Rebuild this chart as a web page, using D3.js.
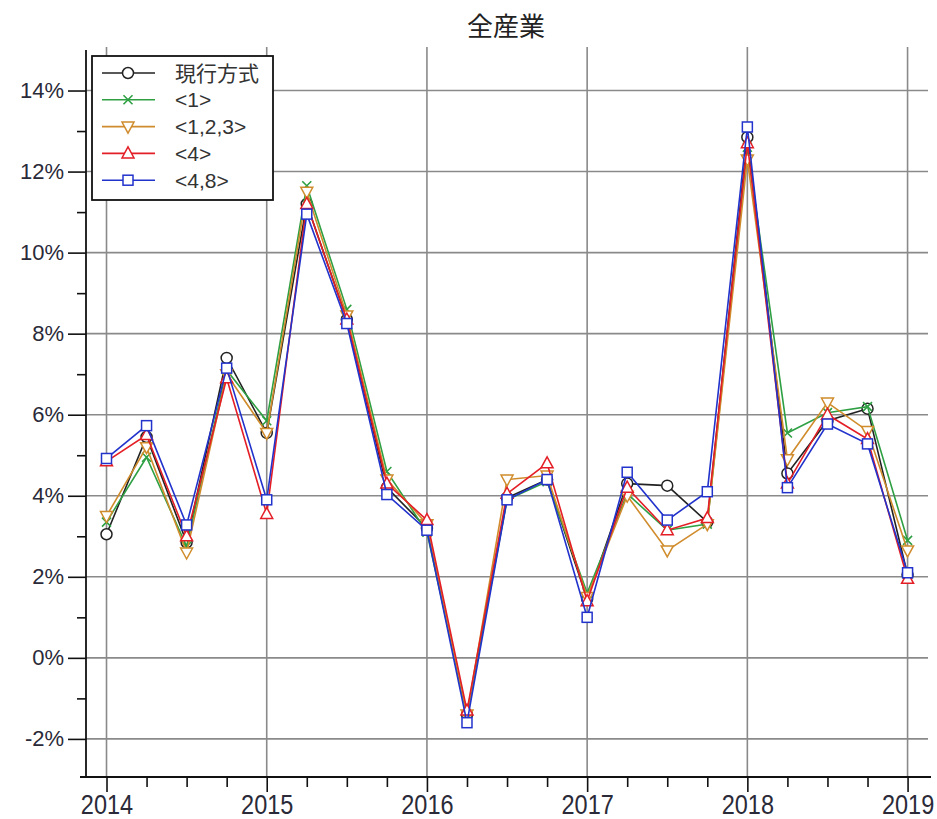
<!DOCTYPE html>
<html>
<head>
<meta charset="utf-8">
<script src="https://cdn.jsdelivr.net/npm/d3@7"></script>
<style>
  html, body { margin: 0; padding: 0; background: #fff; }
  svg { display: block; }
</style>
</head>
<body>
<svg id="chart" width="937" height="819"></svg>
<script>
// Quarterly growth rates (%), 2014Q1 .. 2019Q1
const quarters = d3.range(0, 21).map(i => 2014 + i * 0.25);
const yearTicks = [2014, 2015, 2016, 2017, 2018, 2019];
const pctTicks = [-2, 0, 2, 4, 6, 8, 10, 12, 14];
const minorPctTicks = [-1, 1, 3, 5, 7, 9, 11, 13];

const current = [3.05, 5.45, 2.85, 7.40, 5.55, 11.20, 8.35, 4.20, 3.20, -1.40, 3.95, 4.40, 1.45, 4.30, 4.25, 3.35, 12.85, 4.55, 5.85, 6.15, 2.05];
const g1      = [3.35, 4.95, 2.75, 7.10, 5.85, 11.65, 8.60, 4.60, 3.10, -1.40, 3.90, 4.35, 1.60, 4.05, 3.15, 3.30, 12.60, 5.55, 6.05, 6.20, 2.90];
const g123    = [3.50, 5.20, 2.60, 7.00, 5.55, 11.50, 8.45, 4.40, 3.30, -1.40, 4.40, 4.50, 1.50, 4.00, 2.65, 3.30, 12.30, 4.90, 6.30, 5.60, 2.65];
const g4      = [4.85, 5.50, 3.00, 6.90, 3.55, 11.20, 8.35, 4.30, 3.40, -1.30, 4.05, 4.80, 1.40, 4.20, 3.15, 3.45, 12.70, 4.30, 6.00, 5.40, 1.95];
const g48     = [4.92, 5.73, 3.28, 7.15, 3.90, 10.95, 8.25, 4.03, 3.15, -1.60, 3.90, 4.40, 1.00, 4.58, 3.40, 4.10, 13.10, 4.20, 5.77, 5.28, 2.10];

const seriesNames = ["現行方式", "<1>", "<1,2,3>", "<4>", "<4,8>"];
const seriesValues = [current, g1, g123, g4, g48];
const seriesColors = ["#222222", "#2ea043", "#d08c2c", "#e41e26", "#2233cc"];
const seriesMarkers = ["circle", "cross", "triDown", "triUp", "square"];

const svg = d3.select("#chart");
const plotLeft = 86, plotRight = 930, plotTop = 50, plotBottom = 777;

const x = d3.scaleLinear().domain([2013.872, 2019.14]).range([plotLeft, plotRight]);
const y = d3.scaleLinear().domain([-2.94, 15.0]).range([plotBottom, plotTop]);

// Grid
const grid = svg.append("g");
grid.selectAll("line.v").data(yearTicks).join("line")
  .attr("x1", d => x(d)).attr("x2", d => x(d))
  .attr("y1", plotTop - 3).attr("y2", plotBottom)
  .attr("stroke", "#8a8a8a").attr("stroke-width", 1.6);
grid.selectAll("line.h").data(pctTicks).join("line")
  .attr("x1", plotLeft).attr("x2", plotRight - 2)
  .attr("y1", d => y(d)).attr("y2", d => y(d))
  .attr("stroke", "#8a8a8a").attr("stroke-width", 1.6);

// Y axis
const yAxis = svg.append("g").attr("transform", `translate(${plotLeft},0)`)
  .call(d3.axisLeft(y).tickValues(pctTicks).tickSize(18).tickPadding(4).tickFormat(d => d + "%"));
yAxis.select(".domain").remove();
yAxis.selectAll(".tick line").attr("stroke", "#111").attr("stroke-width", 1.6);
yAxis.selectAll(".tick text")
  .attr("font-family", "'Liberation Sans', Arial, sans-serif")
  .attr("font-size", 22).attr("fill", "#2a2a38");
svg.append("g").attr("transform", `translate(${plotLeft},0)`)
  .call(d3.axisLeft(y).tickValues(minorPctTicks).tickSize(9).tickFormat(""))
  .call(g => g.select(".domain").remove())
  .selectAll(".tick line").attr("stroke", "#111").attr("stroke-width", 1.6);
svg.append("line").attr("x1", plotLeft).attr("x2", plotLeft).attr("y1", plotTop).attr("y2", plotBottom)
  .attr("stroke", "#111").attr("stroke-width", 1.8);

// X axis
const xAxis = svg.append("g").attr("transform", `translate(0,${plotBottom})`)
  .call(d3.axisBottom(x).tickValues(yearTicks).tickSize(15).tickPadding(2).tickFormat(d3.format("d")));
xAxis.select(".domain").remove();
xAxis.selectAll(".tick line").attr("stroke", "#111").attr("stroke-width", 1.6);
xAxis.selectAll(".tick text")
  .attr("font-family", "'Liberation Sans', Arial, sans-serif")
  .attr("font-size", 28).attr("fill", "#2a2a38")
  .attr("dy", "0.72em")
  .attr("transform", "scale(0.84,1)")
  .attr("x", 0);
svg.append("g").attr("transform", `translate(0,${plotBottom})`)
  .call(d3.axisBottom(x).tickValues(quarters.filter(q => q % 1 !== 0)).tickSize(10).tickFormat(""))
  .call(g => g.select(".domain").remove())
  .selectAll(".tick line").attr("stroke", "#111").attr("stroke-width", 1.6);
svg.append("line").attr("x1", plotLeft - 6).attr("x2", plotRight + 1).attr("y1", plotBottom).attr("y2", plotBottom)
  .attr("stroke", "#111").attr("stroke-width", 1.8);

// Title
svg.append("text").attr("x", 506).attr("y", 36).attr("text-anchor", "middle")
  .attr("font-family", "'Noto Sans CJK JP', sans-serif").attr("font-size", 26).attr("fill", "#222")
  .text("全産業");

// Marker drawing
function drawMarker(sel, type, color) {
  if (type === "circle") {
    sel.append("circle").attr("r", 5.5).attr("fill", "#fff").attr("stroke", color).attr("stroke-width", 1.5);
  } else if (type === "square") {
    sel.append("rect").attr("x", -5).attr("y", -5).attr("width", 10).attr("height", 10)
      .attr("fill", "#fff").attr("stroke", color).attr("stroke-width", 1.5);
  } else if (type === "triUp") {
    sel.append("path").attr("d", "M0,-6.5L6,4.5L-6,4.5Z").attr("fill", "#fff").attr("stroke", color).attr("stroke-width", 1.5);
  } else if (type === "triDown") {
    sel.append("path").attr("d", "M0,6.5L6,-4.5L-6,-4.5Z").attr("fill", "#fff").attr("stroke", color).attr("stroke-width", 1.5);
  } else if (type === "cross") {
    sel.append("path").attr("d", "M-4.5,-4.5L4.5,4.5M-4.5,4.5L4.5,-4.5").attr("fill", "none").attr("stroke", color).attr("stroke-width", 1.6);
  }
}

// Series
const line = d3.line().x((d, i) => x(quarters[i])).y(d => y(d));
seriesValues.forEach((vals, s) => {
  const g = svg.append("g");
  g.append("path").datum(vals).attr("d", line)
    .attr("fill", "none").attr("stroke", seriesColors[s]).attr("stroke-width", 1.6);
  vals.forEach((v, i) => {
    const m = g.append("g").attr("transform", `translate(${x(quarters[i])},${y(v)})`);
    drawMarker(m, seriesMarkers[s], seriesColors[s]);
  });
});

// Legend
const legend = svg.append("g");
legend.append("rect").attr("x", 92).attr("y", 56).attr("width", 181).attr("height", 144)
  .attr("fill", "#fff").attr("stroke", "#111").attr("stroke-width", 1.8);
seriesNames.forEach((name, s) => {
  const ly = 73 + s * 26.8;
  legend.append("line").attr("x1", 102).attr("x2", 155).attr("y1", ly).attr("y2", ly)
    .attr("stroke", seriesColors[s]).attr("stroke-width", 1.6);
  const m = legend.append("g").attr("transform", `translate(128,${ly})`);
  drawMarker(m, seriesMarkers[s], seriesColors[s]);
  legend.append("text").attr("x", 175).attr("y", ly).attr("dy", "0.36em")
    .attr("font-family", "'Liberation Sans', 'Noto Sans CJK JP', sans-serif")
    .attr("font-size", 21).attr("fill", "#333")
    .text(name);
});
</script>
</body>
</html>
